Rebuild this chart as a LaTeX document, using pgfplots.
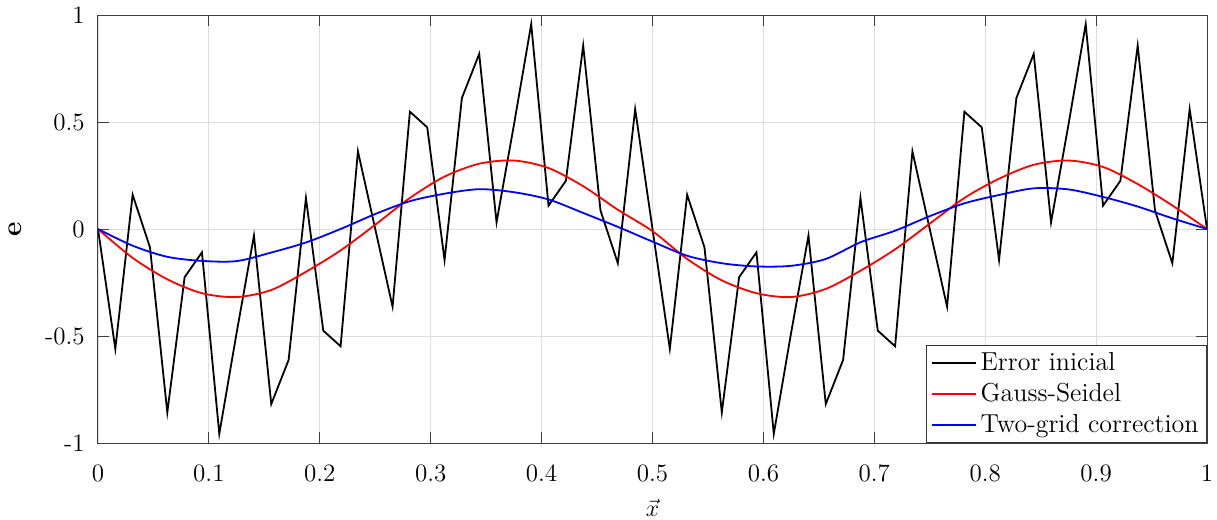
\documentclass[border=0pt]{standalone}
\usepackage{pgfplots}
\pgfplotsset{compat=1.18}
\usepackage{pgfplotstable}
\usetikzlibrary{calc}

\pgfplotstableread{
x y
0 0
0.015625 -0.56
0.03125 0.16
0.046875 -0.086
0.0625 -0.857
0.078125 -0.225
0.09375 -0.109
0.109375 -0.957
0.125 -0.485
0.140625 -0.031
0.15625 -0.818
0.171875 -0.612
0.1875 0.145
0.203125 -0.475
0.21875 -0.548
0.234375 0.363
0.25 0
0.265625 -0.363
0.28125 0.548
0.296875 0.475
0.3125 -0.145
0.328125 0.612
0.34375 0.818
0.359375 0.031
0.375 0.485
0.390625 0.957
0.40625 0.109
0.421875 0.225
0.4375 0.857
0.453125 0.086
0.46875 -0.16
0.484375 0.56
0.5 0
0.515625 -0.56
0.53125 0.16
0.546875 -0.086
0.5625 -0.857
0.578125 -0.225
0.59375 -0.109
0.609375 -0.957
0.625 -0.485
0.640625 -0.031
0.65625 -0.818
0.671875 -0.612
0.6875 0.145
0.703125 -0.475
0.71875 -0.548
0.734375 0.363
0.75 0
0.765625 -0.363
0.78125 0.548
0.796875 0.475
0.8125 -0.145
0.828125 0.612
0.84375 0.818
0.859375 0.031
0.875 0.485
0.890625 0.957
0.90625 0.109
0.921875 0.225
0.9375 0.857
0.953125 0.086
0.96875 -0.16
0.984375 0.56
1 0
}\errinit

\pgfplotstableread{
x y
0 0
0.03125 -0.135
0.0625 -0.235
0.09375 -0.300
0.125 -0.318
0.15625 -0.285
0.1875 -0.200
0.21875 -0.100
0.25 0.020
0.28125 0.145
0.3125 0.245
0.34375 0.305
0.375 0.320
0.40625 0.285
0.4375 0.200
0.46875 0.090
0.5 -0.010
0.53125 -0.140
0.5625 -0.240
0.59375 -0.300
0.625 -0.318
0.65625 -0.280
0.6875 -0.195
0.71875 -0.095
0.75 0.025
0.78125 0.145
0.8125 0.235
0.84375 0.300
0.875 0.320
0.90625 0.290
0.9375 0.210
0.96875 0.110
1 0
}\gaussseidel

\pgfplotstableread{
x y
0 0
0.03125 -0.078
0.0625 -0.130
0.09375 -0.149
0.125 -0.150
0.15625 -0.110
0.1875 -0.063
0.21875 0.000
0.25 0.070
0.28125 0.130
0.3125 0.165
0.34375 0.186
0.375 0.172
0.40625 0.138
0.4375 0.075
0.46875 0.010
0.5 -0.059
0.53125 -0.125
0.5625 -0.160
0.59375 -0.175
0.625 -0.172
0.65625 -0.140
0.6875 -0.062
0.71875 -0.008
0.75 0.060
0.78125 0.120
0.8125 0.159
0.84375 0.190
0.875 0.185
0.90625 0.150
0.9375 0.105
0.96875 0.050
1 0
}\twogrid

\begin{document}
\begin{tikzpicture}
\begin{axis}[
  name=ax, at={(0,0)}, anchor=south west,
  scale only axis, width=554.5pt, height=214pt,
  xmin=0, xmax=1, ymin=-1, ymax=1,
  xtick={0,0.1,0.2,0.3,0.4,0.5,0.6,0.7,0.8,0.9,1},
  xticklabels={0,0.1,0.2,0.3,0.4,0.5,0.6,0.7,0.8,0.9,1},
  ytick={-1,-0.5,0,0.5,1},
  yticklabels={-1,-0.5,0,0.5,1},
  ticklabel style={font=\fontsize{12.5}{14}\selectfont},
  xticklabel style={anchor=center, yshift=-15pt},
  yticklabel style={anchor=east, inner sep=0pt, xshift=-6.5pt},
  tick align=inside, major tick length=5.5pt,
  grid=major, major grid style={black!13, line width=0.4pt},
  axis line style={black!75, line width=0.5pt},
  tick style={black!75, line width=0.5pt},
  xlabel={$\vec{x}$}, ylabel={\textbf{e}},
  every axis x label/.style={at={(axis description cs:0.5,-0.152)}, anchor=center, font=\fontsize{13}{15}\selectfont},
  every axis y label/.style={at={(axis description cs:-0.075,0.5)}, anchor=center, rotate=90, font=\fontsize{14}{16}\selectfont},
  legend style={at={(1,0)}, anchor=south east, font=\fontsize{13}{15}\selectfont,
    draw=black!80, line width=0.5pt, inner xsep=2pt, inner ysep=1.5pt, row sep=1pt},
  legend cell align=left,
  legend image code/.code={\draw[#1] (0pt,0pt) -- (22pt,0pt);},
]
\addplot[black, line width=0.9pt] table {\errinit};
\addlegendentry{Error inicial}
\addplot[red, line width=0.9pt, smooth] table {\gaussseidel};
\addlegendentry{Gauss-Seidel}
\addplot[blue, line width=0.9pt, smooth] table {\twogrid};
\addlegendentry{Two-grid correction}
\end{axis}
\pgfresetboundingbox
\path ($(ax.south west)+(-49pt,-38.5pt)$) rectangle ($(ax.north east)+(5pt,7.5pt)$);
\end{tikzpicture}
\end{document}
